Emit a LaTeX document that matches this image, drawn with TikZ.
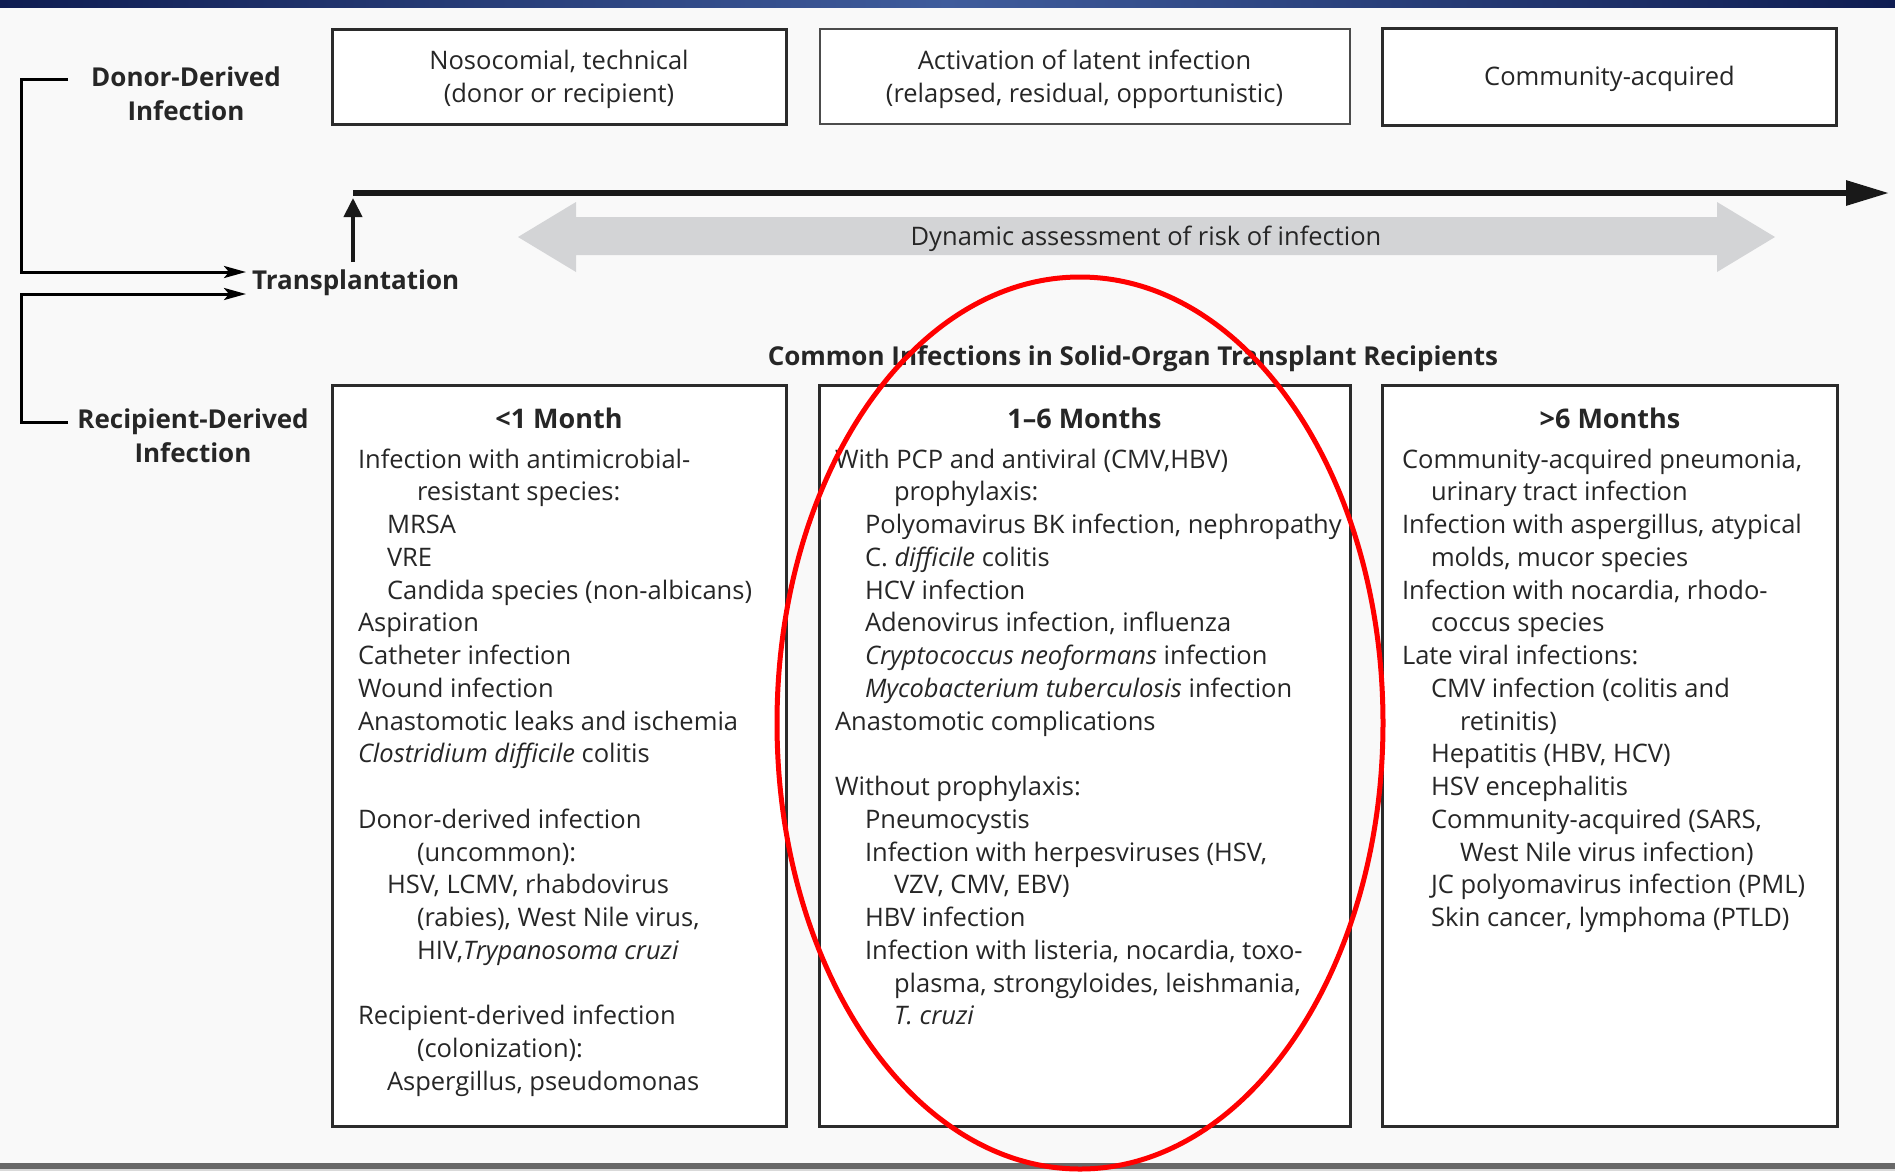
\documentclass[tikz,border=0pt]{standalone}
\usepackage{fontspec}
\setmainfont{Open Sans}
\usetikzlibrary{arrows.meta}
\definecolor{bgc}{HTML}{F9F9F9}
\definecolor{textc}{HTML}{262626}
\definecolor{edgec}{HTML}{2B2B2B}
\definecolor{navyA}{HTML}{0F1D52}
\definecolor{navyB}{HTML}{3F5C9C}
\definecolor{arrowgray}{HTML}{D3D4D6}
\definecolor{bargray}{HTML}{686868}
\newcommand\rowtxt[4]{\node[txt, anchor=base west] (#1) at (#2,{468+32.75*(#3)}) {#4};}
\begin{document}
\begin{tikzpicture}[x=1pt,y=-1pt,
  txt/.style={inner sep=0pt, outer sep=0pt, text=textc, font=\fontsize{25.5}{30}\selectfont},
  toptxt/.style={inner sep=0pt, outer sep=0pt, align=center, text=textc, font=\fontsize{25.5}{33}\selectfont},
  hdr/.style={inner sep=0pt, outer sep=0pt, text=textc, font=\fontsize{26}{34}\selectfont\bfseries},
  boxshape/.style={draw=edgec, line width=3pt, fill=white, inner sep=0pt},
  conn/.style={draw=black, line width=3pt, -{Stealth[length=22pt,width=12pt,inset=5pt]}}
]
\useasboundingbox (0,0) rectangle (1895,1171);
\fill[bgc] (0,0) rectangle (1895,1171);
% top and bottom bars
\shade[left color=navyA, right color=navyB] (0,0) rectangle (948,7);
\shade[left color=navyB, right color=navyA] (947,0) rectangle (1895,7);
\fill[bargray] (0,1163) rectangle (1895,1169);
\fill[black!15] (0,1169) rectangle (1895,1171);

% top boxes
\node[boxshape, minimum width=454pt, minimum height=95pt] (b1) at (559,76.5) {};
\node[boxshape, minimum width=530pt, minimum height=95pt, line width=2pt, draw=black!70] (b2) at (1084.5,76.5) {};
\node[boxshape, minimum width=454pt, minimum height=97pt] (b3) at (1609.5,76.5) {};
\node[toptxt] (t1) at (b1.center) [yshift=-2.5pt] {Nosocomial, technical\\(donor or recipient)};
\node[toptxt] (t2) at (b2.center) [yshift=-2.5pt] {Activation of latent infection\\(relapsed, residual, opportunistic)};
\node[toptxt] (t3) at (b3.center) [yshift=-2pt] {Community-acquired};

% left labels
\node[hdr, align=center] (donor) at (186,94) {Donor-Derived\\Infection};
\node[hdr, align=center] (recip) at (193,436) {Recipient-Derived\\Infection};
\node[hdr, anchor=west] (trans) at (252,283) {Transplantation};

% brackets
\coordinate (dstart) at (68,79);
\coordinate (rstart) at (68,422);
\coordinate (tA) at (246,272);
\coordinate (tB) at (246,294);
\draw[conn] (dstart) -- (21,79) |- (tA);
\draw[conn] (rstart) -- (21,422) |- (tB);

% timeline
\coordinate (tl0) at (353,193);
\coordinate (tl1) at (1889,193);
\coordinate (up0) at (353,262);
\coordinate (up1) at (353,198);
\draw[line width=6pt, draw=black!90, -{Triangle[length=43pt,width=24pt]}] (tl0) -- (tl1);
\draw[line width=4pt, draw=black!90, -{Triangle[length=19pt,width=18pt]}] (up0) -- (up1);

% gray double arrow
\fill[arrowgray] (518,237) -- (576,202) -- (576,217) -- (1717,217) -- (1717,202) -- (1775,237) -- (1717,272) -- (1717,255) -- (576,255) -- (576,272) -- cycle;
\node[txt] (dyn) at (1146,238.5) {Dynamic assessment of risk of infection};

% heading
\node[hdr] (head) at (1133,358.5) {Common Infections in Solid-Organ Transplant Recipients};

% column boxes
\node[boxshape, minimum width=454pt, minimum height=741pt] (cL) at (559,755.5) {};
\node[boxshape, minimum width=531pt, minimum height=741pt] (cM) at (1084.5,755.5) {};
\node[boxshape, minimum width=455pt, minimum height=741pt] (cR) at (1610,755.5) {};

\node[hdr, anchor=base, font=\fontsize{27}{34}\selectfont\bfseries] (hL) at (559,428) {<1 Month};
\node[hdr, anchor=base, font=\fontsize{27}{34}\selectfont\bfseries] (hM) at (1084.5,428) {1–6 Months};
\node[hdr, anchor=base, font=\fontsize{27}{34}\selectfont\bfseries] (hR) at (1610,428) {>6 Months};

% column L
\rowtxt{L0}{358}{0}{Infection with antimicrobial-}
\rowtxt{L1}{417}{1}{resistant species:}
\rowtxt{L2}{387}{2}{MRSA}
\rowtxt{L3}{387}{3}{VRE}
\rowtxt{L4}{387}{4}{Candida species (non-albicans)}
\rowtxt{L5}{358}{5}{Aspiration}
\rowtxt{L6}{358}{6}{Catheter infection}
\rowtxt{L7}{358}{7}{Wound infection}
\rowtxt{L8}{358}{8}{Anastomotic leaks and ischemia}
\rowtxt{L9}{358}{9}{\textit{Clostridium difficile} colitis}
\rowtxt{L11}{358}{11}{Donor-derived infection}
\rowtxt{L12}{417}{12}{(uncommon):}
\rowtxt{L13}{387}{13}{HSV, LCMV, rhabdovirus}
\rowtxt{L14}{417}{14}{(rabies), West Nile virus,}
\rowtxt{L15}{417}{15}{HIV,\textit{Trypanosoma cruzi}}
\rowtxt{L17}{358}{17}{Recipient-derived infection}
\rowtxt{L18}{417}{18}{(colonization):}
\rowtxt{L19}{387}{19}{Aspergillus, pseudomonas}

% column M
\rowtxt{M0}{835}{0}{With PCP and antiviral (CMV,HBV)}
\rowtxt{M1}{894}{1}{prophylaxis:}
\rowtxt{M2}{865}{2}{Polyomavirus BK infection, nephropathy}
\rowtxt{M3}{865}{3}{C. \textit{difficile} colitis}
\rowtxt{M4}{865}{4}{HCV infection}
\rowtxt{M5}{865}{5}{Adenovirus infection, influenza}
\rowtxt{M6}{865}{6}{\textit{Cryptococcus neoformans} infection}
\rowtxt{M7}{865}{7}{\textit{Mycobacterium tuberculosis} infection}
\rowtxt{M8}{835}{8}{Anastomotic complications}
\rowtxt{M10}{835}{10}{Without prophylaxis:}
\rowtxt{M11}{865}{11}{Pneumocystis}
\rowtxt{M12}{865}{12}{Infection with herpesviruses (HSV,}
\rowtxt{M13}{894}{13}{VZV, CMV, EBV)}
\rowtxt{M14}{865}{14}{HBV infection}
\rowtxt{M15}{865}{15}{Infection with listeria, nocardia, toxo-}
\rowtxt{M16}{894}{16}{plasma, strongyloides, leishmania,}
\rowtxt{M17}{894}{17}{\textit{T. cruzi}}

% column R
\rowtxt{R0}{1402}{0}{Community-acquired pneumonia,}
\rowtxt{R1}{1431}{1}{urinary tract infection}
\rowtxt{R2}{1402}{2}{Infection with aspergillus, atypical}
\rowtxt{R3}{1431}{3}{molds, mucor species}
\rowtxt{R4}{1402}{4}{Infection with nocardia, rhodo-}
\rowtxt{R5}{1431}{5}{coccus species}
\rowtxt{R6}{1402}{6}{Late viral infections:}
\rowtxt{R7}{1431}{7}{CMV infection (colitis and}
\rowtxt{R8}{1460}{8}{retinitis)}
\rowtxt{R9}{1431}{9}{Hepatitis (HBV, HCV)}
\rowtxt{R10}{1431}{10}{HSV encephalitis}
\rowtxt{R11}{1431}{11}{Community-acquired (SARS,}
\rowtxt{R12}{1460}{12}{West Nile virus infection)}
\rowtxt{R13}{1431}{13}{JC polyomavirus infection (PML)}
\rowtxt{R14}{1431}{14}{Skin cancer, lymphoma (PTLD)}

% red ellipse
\draw[red, line width=5pt] (1080,723) ellipse [x radius=303pt, y radius=446pt];
\end{tikzpicture}
\end{document}
